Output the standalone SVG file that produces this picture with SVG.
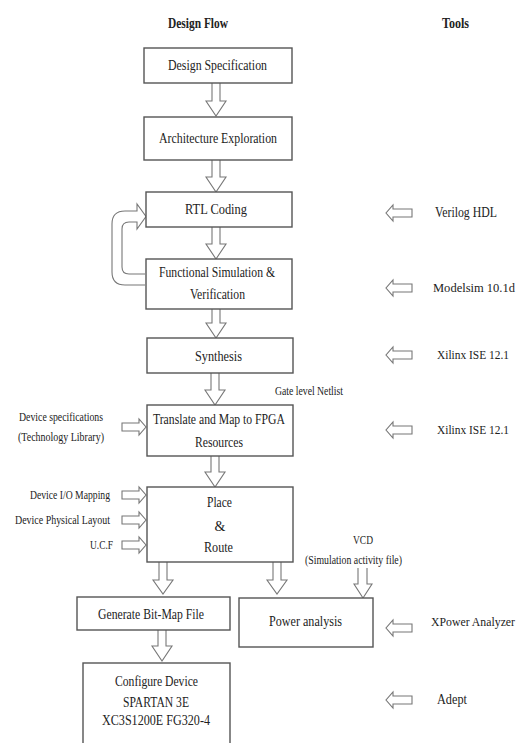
<svg xmlns="http://www.w3.org/2000/svg" width="522" height="743" viewBox="0 0 522 743">
<style>
.box{fill:#fff;stroke:#555;stroke-width:1.4}
.arr{fill:#fff;stroke:#777;stroke-width:1.1;stroke-linejoin:miter}
text{font-family:"Liberation Serif","Times New Roman",serif;fill:#222}
.t{font-size:14px}
.r{font-size:12px}
.s{font-size:11.5px}
.h{font-size:14px;font-weight:bold}
.m{text-anchor:middle}
</style>
<rect width="522" height="743" fill="#fff"/>
<text class="h" x="168" y="28" textLength="60" lengthAdjust="spacingAndGlyphs">Design Flow</text>
<text class="h" x="442" y="28" textLength="27" lengthAdjust="spacingAndGlyphs">Tools</text>

<g id="connectors">
<path class="arr" d="M212,83 V101 H206 L216,116 L226,101 H220 V83"/>
<path class="arr" d="M212,160 V177 H206 L216,192 L226,177 H220 V160"/>
<path class="arr" d="M212,227 V244 H206 L216,259 L226,244 H220 V227"/>
<path class="arr" d="M212,309 V323 H206 L216,338 L226,323 H220 V309"/>
<path class="arr" d="M211,373 V390 H205 L215,405 L225,390 H219 V373"/>
<path class="arr" d="M211,456 V472 H205 L215,487 L225,472 H219 V456"/>
<path class="arr" d="M159,562 V580 H153 L163,594 L173,580 H167 V562"/>
<path class="arr" d="M273,562 V580 H267 L277,594 L287,580 H281 V562"/>
<path class="arr" d="M358,568 V584 H354 L363,598 L372,584 H367 V568"/>
<path class="arr" d="M158,630 V646 H152 L162,661 L172,646 H166 V630"/>
<path class="arr" d="M145,285 H125 Q112,285 112,272 V224 Q112,211 125,211 H137 V204 L146,216.5 L137,229 V222 H129 Q122,222 122,229 V267 Q122,274 129,274 H145"/>
<path class="arr" d="M122,423 H139 V419 L146,427 L139,435 V431 H122 Z"/>
<path class="arr" d="M122,491 H139 V487 L146,495 L139,503 V499 H122 Z"/>
<path class="arr" d="M122,516 H139 V512 L146,520 L139,528 V524 H122 Z"/>
<path class="arr" d="M122,541 H139 V537 L146,545 L139,553 V549 H122 Z"/>
<path class="arr" d="M412,209 H393 V205 L386,213 L393,221 V217 H412 Z"/>
<path class="arr" d="M412,284 H393 V280 L386,288 L393,296 V292 H412 Z"/>
<path class="arr" d="M412,351 H393 V347 L386,355 L393,363 V359 H412 Z"/>
<path class="arr" d="M412,426 H393 V422 L386,430 L393,438 V434 H412 Z"/>
<path class="arr" d="M412,624 H393 V620 L386,628 L393,636 V632 H412 Z"/>
<path class="arr" d="M412,696 H393 V692 L386,700 L393,708 V704 H412 Z"/>
</g>

<g id="n-spec"><rect class="box" x="144" y="48" width="148" height="35"/>
<text class="t" x="168" y="70" textLength="99" lengthAdjust="spacingAndGlyphs">Design Specification</text></g>
<g id="n-arch"><rect class="box" x="144" y="117" width="148" height="43"/>
<text class="t" x="159" y="143" textLength="118" lengthAdjust="spacingAndGlyphs">Architecture Exploration</text></g>
<g id="n-rtl"><rect class="box" x="146" y="192" width="146" height="35"/>
<text class="t" x="185" y="214" textLength="62" lengthAdjust="spacingAndGlyphs">RTL Coding</text></g>
<g id="n-func"><rect class="box" x="146" y="259" width="146" height="50"/>
<text class="t" x="159" y="277" textLength="116" lengthAdjust="spacingAndGlyphs">Functional Simulation &amp;</text>
<text class="t" x="190" y="299" textLength="55" lengthAdjust="spacingAndGlyphs">Verification</text></g>
<g id="n-synth"><rect class="box" x="147" y="338" width="146" height="35"/>
<text class="t" x="195" y="361" textLength="47" lengthAdjust="spacingAndGlyphs">Synthesis</text></g>
<g id="n-translate"><rect class="box" x="147" y="405" width="146" height="51"/>
<text class="t" x="153" y="424" textLength="132" lengthAdjust="spacingAndGlyphs">Translate and Map to FPGA</text>
<text class="t" x="195" y="447" textLength="48" lengthAdjust="spacingAndGlyphs">Resources</text></g>
<g id="n-pr"><rect class="box" x="147" y="487" width="146" height="75"/>
<text class="t" x="207" y="507" textLength="25" lengthAdjust="spacingAndGlyphs">Place</text>
<text class="t m" x="220" y="531">&amp;</text>
<text class="t" x="204" y="552" textLength="29" lengthAdjust="spacingAndGlyphs">Route</text></g>
<g id="n-gen"><rect class="box" x="77" y="597" width="153" height="33"/>
<text class="t" x="98" y="619" textLength="106" lengthAdjust="spacingAndGlyphs">Generate Bit-Map File</text></g>
<g id="n-power"><rect class="box" x="239" y="598" width="134" height="49"/>
<text class="t" x="269" y="626" textLength="73" lengthAdjust="spacingAndGlyphs">Power analysis</text></g>
<g id="n-config"><rect class="box" x="83" y="663" width="147" height="85"/>
<text class="t" x="115" y="686" textLength="83" lengthAdjust="spacingAndGlyphs">Configure Device</text>
<text class="t" x="123" y="707" textLength="66" lengthAdjust="spacingAndGlyphs">SPARTAN 3E</text>
<text class="t" x="102" y="725" textLength="108" lengthAdjust="spacingAndGlyphs">XC3S1200E FG320-4</text></g>

<g id="labels">
<text class="s" x="275" y="395" textLength="68" lengthAdjust="spacingAndGlyphs">Gate level Netlist</text>
<text class="s" x="19" y="421" textLength="84" lengthAdjust="spacingAndGlyphs">Device specifications</text>
<text class="s" x="18" y="441" textLength="86" lengthAdjust="spacingAndGlyphs">(Technology Library)</text>
<text class="s" x="30" y="499" textLength="80" lengthAdjust="spacingAndGlyphs">Device I/O Mapping</text>
<text class="s" x="15" y="524" textLength="95" lengthAdjust="spacingAndGlyphs">Device Physical Layout</text>
<text class="s" x="90" y="549" textLength="23" lengthAdjust="spacingAndGlyphs">U.C.F</text>
<text class="s" x="353" y="544" textLength="20" lengthAdjust="spacingAndGlyphs">VCD</text>
<text class="s" x="305" y="564" textLength="97" lengthAdjust="spacingAndGlyphs">(Simulation activity file)</text>
</g>
<g id="tools">
<text class="t" x="435" y="217" textLength="62" lengthAdjust="spacingAndGlyphs">Verilog HDL</text>
<text class="r" x="433" y="292" textLength="82" lengthAdjust="spacingAndGlyphs">Modelsim 10.1d</text>
<text class="r" x="437" y="359" textLength="72" lengthAdjust="spacingAndGlyphs">Xilinx ISE 12.1</text>
<text class="r" x="437" y="434" textLength="72" lengthAdjust="spacingAndGlyphs">Xilinx ISE 12.1</text>
<text class="r" x="431" y="626" textLength="84" lengthAdjust="spacingAndGlyphs">XPower Analyzer</text>
<text class="t" x="437" y="704" textLength="30" lengthAdjust="spacingAndGlyphs">Adept</text>
</g>
</svg>
